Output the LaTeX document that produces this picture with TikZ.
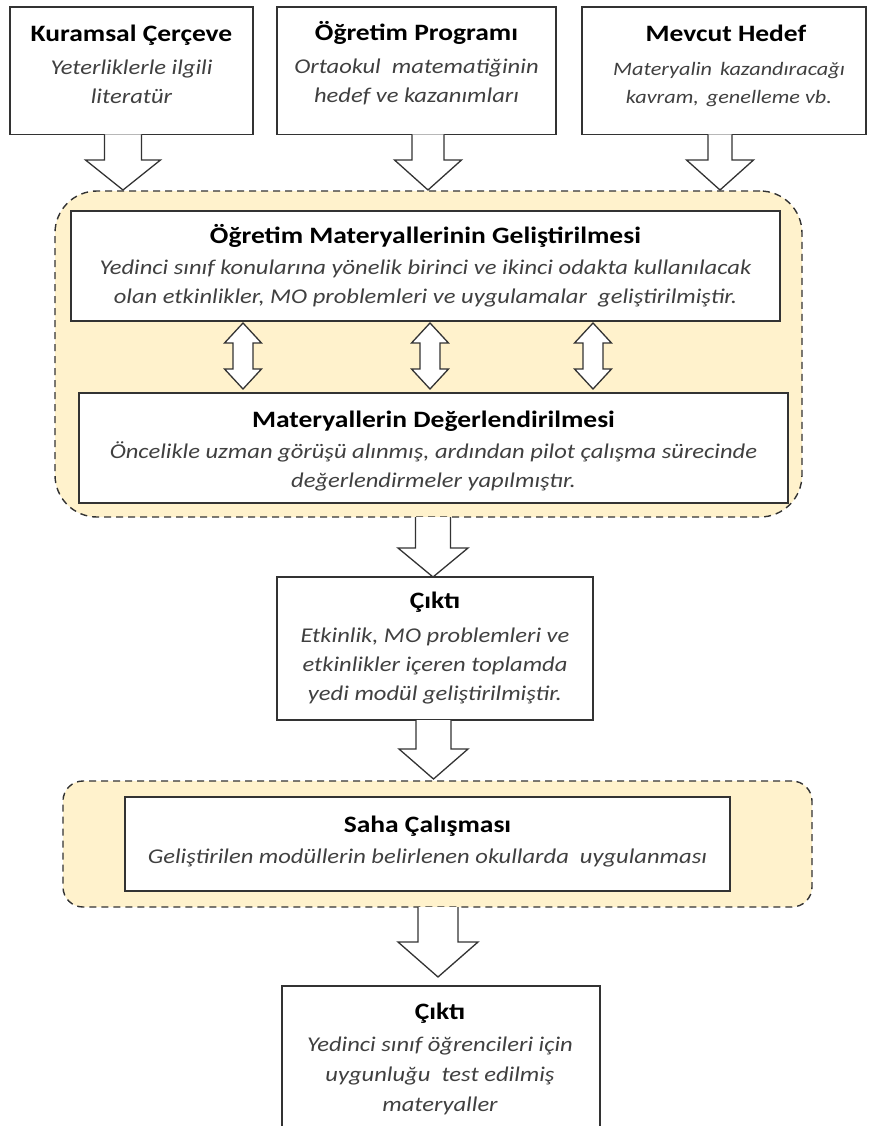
\documentclass[tikz,border=0pt]{standalone}
\usepackage{fontspec}
\setmainfont{Carlito}[FakeStretch=1.17]
\usetikzlibrary{calc}

\definecolor{regfill}{HTML}{FFF2CC}
\definecolor{edge}{HTML}{333333}
\definecolor{bodytxt}{HTML}{404040}

\tikzset{
  box/.style={draw=edge, line width=1.6pt, fill=white, rectangle, inner sep=0pt, outer sep=0pt},
  region/.style={draw=edge, line width=1.4pt, dash pattern=on 7pt off 5pt, fill=regfill,
                 rounded corners=#1, rectangle, inner sep=0pt, outer sep=0pt},
  ttl/.style={font=\fontsize{23.5}{28}\selectfont\bfseries, anchor=base, inner sep=0pt, text=black},
  bdy/.style={font=\fontsize{21}{29}\selectfont\itshape, anchor=base, inner sep=0pt, text=bodytxt},
  bdysmall/.style={bdy, font=\fontsize{19}{28}\selectfont\itshape},
  blk/.style={draw=edge, line width=1.3pt, fill=white, line join=miter},
}

% centred lines, baseline of the whole block = baseline of its first line
\newcommand\linesof[1]{\begin{tabular}[t]{@{}c@{}}#1\end{tabular}}

% hollow block arrow pointing down: from node, to node, x centre,
% shaft half width, head half width, head length, gap before target
\newcommand\downblk[7]{%
  \draw[blk] let \p1=(#1.south), \p2=(#2.north) in
    (#3pt-#4pt,\y1) -- (#3pt-#4pt,\y2+#7pt+#6pt) -- (#3pt-#5pt,\y2+#7pt+#6pt)
    -- (#3pt,\y2+#7pt) -- (#3pt+#5pt,\y2+#7pt+#6pt) -- (#3pt+#4pt,\y2+#7pt+#6pt)
    -- (#3pt+#4pt,\y1);}

% hollow two-headed block arrow between two stacked nodes, at x centre
\newcommand\updownblk[3]{%
  \draw[blk] let \p1=(#1.south), \p2=(#2.north) in
    (#3pt,\y1-2pt) -- ++(18.5pt,-20pt) -- ++(-8.5pt,0pt)
    -- (#3pt+10pt,\y2+4pt+20pt) -- ++(8.5pt,0pt) -- (#3pt,\y2+4pt)
    -- ++(-18.5pt,20pt) -- ++(8.5pt,0pt)
    -- (#3pt-10pt,\y1-2pt-20pt) -- ++(-8.5pt,0pt) -- cycle;}

\begin{document}
\begin{tikzpicture}[x=1pt, y=-1pt]
\useasboundingbox (0,0) rectangle (868,1126);
\clip (0,0) rectangle (868,1126);

% dashed background groups
\node[region=42pt, minimum width=747pt, minimum height=326pt] (reg1) at (428.5,354) {};
\node[region=20pt, minimum width=749pt, minimum height=126pt] (reg2) at (437.5,844) {};

% input boxes
\node[box, minimum width=243pt, minimum height=127.5pt] (box1) at (131.5,70.75) {};
\node[box, minimum width=279pt, minimum height=127.5pt] (box2) at (416.5,70.75) {};
\node[box, minimum width=284pt, minimum height=127.5pt] (box3) at (724,70.75) {};

\node[ttl] (t1) at (131.5,42) {Kuramsal Çerçeve};
\node[bdy] (b1) at (131.5,75) {\linesof{Yeterliklerle ilgili\\literatür}};
\node[ttl] (t2) at (416.5,41) {Öğretim Programı};
\node[bdy] (b2) at (416.5,74) {\linesof{Ortaokul\ \ matematiğinin\\hedef ve kazanımları}};
\node[ttl] (t3) at (726,42) {Mevcut Hedef};
\node[bdysmall] (b3) at (729,76) {\linesof{Materyalin\hspace{3pt} kazandıracağı\\kavram,\hspace{3pt} genelleme vb.}};

% development and evaluation
\node[box, minimum width=709pt, minimum height=110pt] (inner1) at (425.5,266) {};
\node[ttl] (t4) at (425.5,243) {Öğretim Materyallerinin Geliştirilmesi};
\node[bdy] (b4) at (425.5,274) {\linesof{Yedinci sınıf konularına yönelik birinci ve ikinci odakta kullanılacak\\olan etkinlikler, MO problemleri ve uygulamalar\ \ geliştirilmiştir.}};

\node[box, minimum width=709pt, minimum height=110pt] (inner2) at (433.5,448) {};
\node[ttl] (t5) at (433.5,427) {Materyallerin Değerlendirilmesi};
\node[bdy] (b5) at (433.5,458) {\linesof{Öncelikle uzman görüşü alınmış, ardından pilot çalışma sürecinde\\değerlendirmeler yapılmıştır.}};

% first output
\node[box, minimum width=316pt, minimum height=143pt] (cikti1) at (435,648.5) {};
\node[ttl] (t6) at (435,608) {Çıktı};
\node[bdy] (b6) at (435,642) {\linesof{Etkinlik, MO problemleri ve\\etkinlikler içeren toplamda\\yedi modül geliştirilmiştir.}};

% field study
\node[box, minimum width=605pt, minimum height=94pt] (saha) at (427.5,844) {};
\node[ttl] (t7) at (427.5,832) {Saha Çalışması};
\node[bdy] (b7) at (427.5,863) {Geliştirilen modüllerin belirlenen okullarda\ \ uygulanması};

% final output
\node[box, minimum width=318pt, minimum height=164pt] (cikti2) at (441,1068) {};
\node[ttl] (t8) at (440,1019) {Çıktı};
\node[bdy, font=\fontsize{21}{30}\selectfont\itshape] (b8) at (440,1051) {\linesof{Yedinci sınıf öğrencileri için\\uygunluğu\ \ test edilmiş\\materyaller}};

% block arrows
\downblk{box1}{reg1}{123}{18.5}{37.5}{30}{1}
\downblk{box2}{reg1}{428}{16}{33.5}{30}{1}
\downblk{box3}{reg1}{720}{12}{33.5}{30}{1}
\downblk{reg1}{cikti1}{433}{17.5}{35}{29}{0}
\downblk{cikti1}{reg2}{433.5}{17.5}{34.5}{30}{2}
\downblk{reg2}{cikti2}{438}{20}{40}{35}{9}

\updownblk{inner1}{inner2}{243}
\updownblk{inner1}{inner2}{430}
\updownblk{inner1}{inner2}{593}
\end{tikzpicture}
\end{document}
